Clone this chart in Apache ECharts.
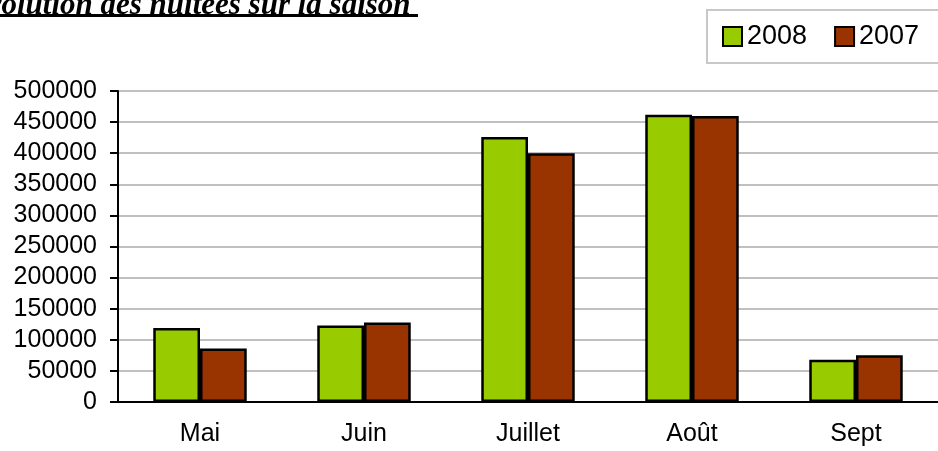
<!DOCTYPE html>
<html>
<head>
<meta charset="utf-8">
<script src="https://cdn.jsdelivr.net/npm/echarts@6/dist/echarts.min.js"></script>
<style>
  html, body { margin: 0; padding: 0; background: #fff; }
  #divChart { width: 938px; height: 451px; }
</style>
</head>
<body>
<div id="divChart"></div>
<script>
var mois = ['Mai', 'Juin', 'Juillet', 'Août', 'Sept'];
var nuitees2008 = [119000, 123000, 426000, 462000, 68000];
var nuitees2007 = [86000, 128000, 400000, 460000, 75000];
var yTicks = [0, 50000, 100000, 150000, 200000, 250000, 300000, 350000, 400000, 450000, 500000];

var chartDom = document.getElementById('divChart');
var myChart = echarts.init(chartDom);
var option;

option = {
  backgroundColor: '#fff',
  animation: false,
  title: {
    text: 'Évolution des nuitées sur la saison',
    left: -38,
    top: -15,
    textStyle: {
      fontFamily: 'Liberation Serif',
      fontSize: 31,
      fontWeight: 'bold',
      fontStyle: 'italic',
      color: '#000'
    }
  },
  // underline of the title
  graphic: [{
    type: 'rect',
    shape: { x: 0, y: 14, width: 418, height: 3 },
    style: { fill: '#000' }
  }],
  legend: {
    orient: 'horizontal',
    left: 707,
    top: 10,
    width: 300,
    padding: [13, 20, 13, 15],
    itemGap: 27,
    itemWidth: 19,
    itemHeight: 19,
    icon: 'rect',
    borderColor: '#c8c8c8',
    borderWidth: 2,
    textStyle: {
      fontFamily: 'Liberation Sans',
      fontSize: 27,
      color: '#000'
    },
    data: ['2008', '2007']
  },
  grid: {
    left: 118,
    top: 91,
    width: 825,
    bottom: 49
  },
  xAxis: {
    type: 'category',
    data: mois,
    axisLine: { lineStyle: { color: '#000', width: 2 } },
    axisTick: { length: 8, lineStyle: { color: '#000', width: 2 } },
    axisLabel: {
      margin: 20,
      fontFamily: 'Liberation Sans',
      fontSize: 25,
      color: '#000'
    }
  },
  yAxis: {
    type: 'value',
    min: yTicks[0],
    max: yTicks[yTicks.length - 1],
    interval: yTicks[1] - yTicks[0],
    axisLine: { show: true, lineStyle: { color: '#000', width: 2 } },
    axisTick: { show: true, length: 8, lineStyle: { color: '#000', width: 2 } },
    axisLabel: {
      margin: 21,
      fontFamily: 'Liberation Sans',
      fontSize: 25,
      color: '#000',
      formatter: function (v) { return String(v); }
    },
    splitLine: { lineStyle: { color: '#c0c0c0', width: 2 } }
  },
  series: [
    {
      name: '2008',
      type: 'bar',
      data: nuitees2008,
      barGap: '0%',
      barCategoryGap: '43%',
      itemStyle: { color: '#99cc00', borderColor: '#000', borderWidth: 2.5 }
    },
    {
      name: '2007',
      type: 'bar',
      data: nuitees2007,
      barGap: '0%',
      barCategoryGap: '43%',
      itemStyle: { color: '#993300', borderColor: '#000', borderWidth: 2.5 }
    }
  ]
};

if (option && typeof option === 'object') {
  myChart.setOption(option);
}
window.addEventListener('resize', myChart.resize);
</script>
</body>
</html>
